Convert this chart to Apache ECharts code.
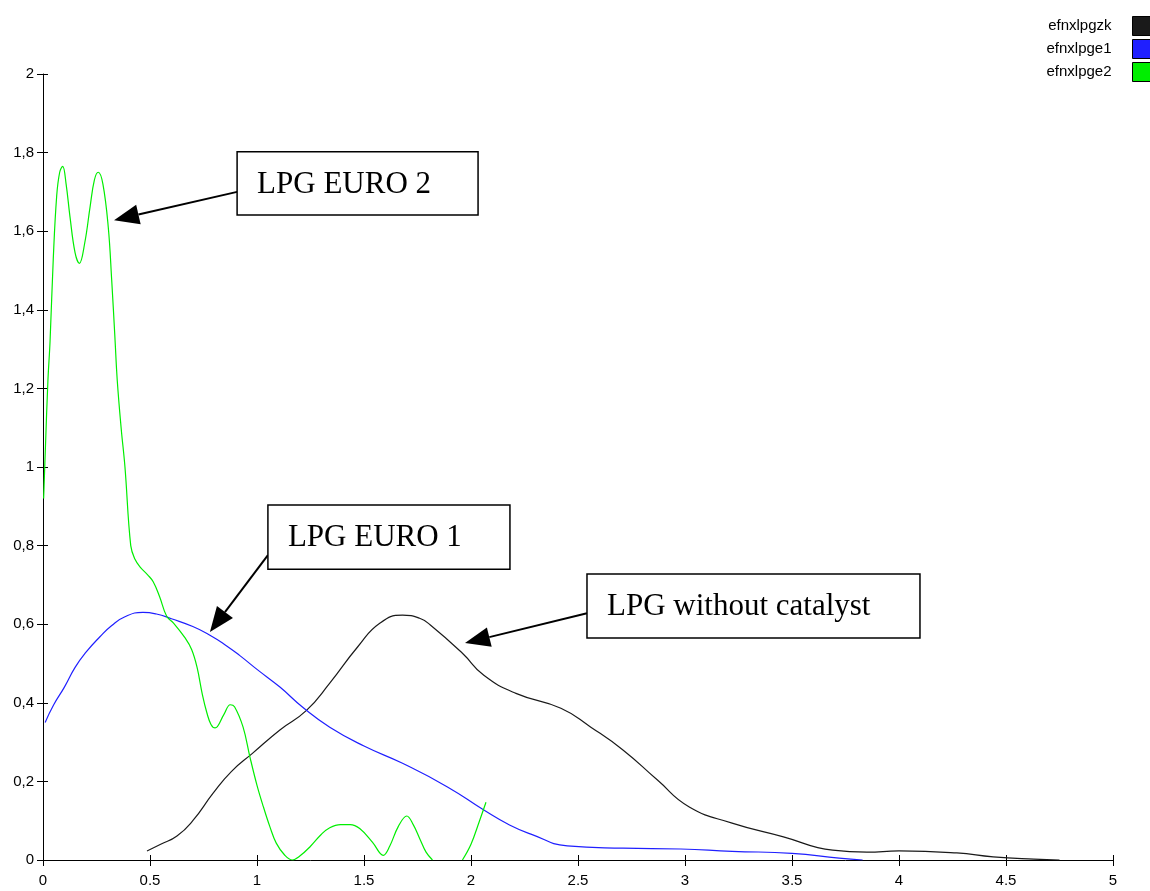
<!DOCTYPE html>
<html>
<head>
<meta charset="utf-8">
<script src="https://cdn.jsdelivr.net/npm/echarts@6/dist/echarts.min.js"></script>
<style>
  html, body { margin: 0; padding: 0; background: #fff; }
  #chart { width: 1150px; height: 891px; }
</style>
</head>
<body>
<div id="chart"></div>
<script>
// Series names as shown in the legend
const seriesNames = ['efnxlpgzk', 'efnxlpge1', 'efnxlpge2'];

// LPG without catalyst: [x, y]
const zkPoints = [
  [0.486, 0.023], [0.55, 0.04], [0.626, 0.061], [0.7, 0.1], [0.795, 0.17],
  [0.88, 0.225], [0.98, 0.272], [1.107, 0.331], [1.23, 0.38], [1.34, 0.45],
  [1.47, 0.542], [1.575, 0.603], [1.68, 0.623], [1.76, 0.615], [1.81, 0.598],
  [1.96, 0.526], [2.06, 0.47], [2.21, 0.424], [2.42, 0.386], [2.56, 0.338],
  [2.71, 0.28], [2.87, 0.204], [3.02, 0.135], [3.22, 0.094], [3.46, 0.059],
  [3.69, 0.025], [3.85, 0.02], [4.0, 0.023], [4.27, 0.018], [4.44, 0.008],
  [4.63, 0.002], [4.75, 0.0]
];

// LPG EURO 1: [x, y]
const e1Points = [
  [0.01, 0.35], [0.05, 0.395], [0.1, 0.44], [0.15, 0.49], [0.2, 0.528],
  [0.266, 0.568], [0.32, 0.596], [0.383, 0.619], [0.467, 0.63], [0.53, 0.626],
  [0.6, 0.614], [0.7, 0.594], [0.78, 0.572], [0.85, 0.548], [0.92, 0.52],
  [1.0, 0.485], [1.107, 0.44], [1.215, 0.388], [1.34, 0.338], [1.5, 0.29],
  [1.68, 0.246], [1.89, 0.186], [2.06, 0.127], [2.18, 0.089], [2.28, 0.066],
  [2.45, 0.036], [2.71, 0.03], [2.98, 0.028], [3.22, 0.022], [3.5, 0.017],
  [3.72, 0.005], [3.83, 0.0]
];

// LPG EURO 2: [x, y]; the null entry is where the curve drops out of range
const e2Points = [
  [0.003, 0.92], [0.012, 1.06], [0.023, 1.22], [0.033, 1.32], [0.048, 1.53],
  [0.064, 1.69], [0.078, 1.75], [0.092, 1.765], [0.108, 1.72], [0.126, 1.637],
  [0.15, 1.545], [0.17, 1.518], [0.195, 1.57], [0.22, 1.662], [0.24, 1.73],
  [0.258, 1.75], [0.28, 1.72], [0.305, 1.61], [0.321, 1.476], [0.336, 1.33],
  [0.347, 1.22], [0.365, 1.1], [0.383, 1.0], [0.41, 0.8], [0.43, 0.765],
  [0.453, 0.746], [0.49, 0.725], [0.515, 0.708], [0.545, 0.67], [0.578, 0.62],
  [0.61, 0.603], [0.664, 0.565], [0.695, 0.535], [0.72, 0.49], [0.745, 0.42],
  [0.766, 0.374], [0.785, 0.345], [0.804, 0.336], [0.845, 0.37], [0.875, 0.395],
  [0.895, 0.39], [0.935, 0.338], [0.967, 0.262], [1.0, 0.19], [1.03, 0.135],
  [1.06, 0.085], [1.09, 0.043], [1.13, 0.012], [1.165, 0.0], [1.2, 0.01],
  [1.25, 0.035], [1.3, 0.065], [1.34, 0.082], [1.39, 0.09], [1.435, 0.09],
  [1.48, 0.08], [1.54, 0.045], [1.59, 0.012], [1.62, 0.035], [1.66, 0.085],
  [1.7, 0.112], [1.73, 0.09], [1.76, 0.055], [1.79, 0.02], [1.82, 0.0],
  [1.89, null],
  [1.96, 0.0], [2.0, 0.04], [2.04, 0.1], [2.07, 0.147]
];

// Axis ranges and tick steps
const xRange = [0, 5];
const xStep = 0.5;
const yRange = [0, 2];
const yStep = 0.2;

// Callout boxes: label, arrow tip, arrow tail, box corners (all in data units)
const calloutLabels = ['LPG EURO 2', 'LPG EURO 1', 'LPG without catalyst'];
const calloutTips = [[0.332, 1.628], [0.78, 0.58], [1.972, 0.552]];
const calloutTails = [[0.907, 1.70], [1.051, 0.776], [2.542, 0.628]];
const calloutBoxes = [
  [0.907, 1.802, 2.033, 1.641],
  [1.051, 0.903, 2.182, 0.740],
  [2.542, 0.728, 4.098, 0.565]
];

const colors = ['#1a1a1a', '#1f1fff', '#00ee00'];
const labelFont = 'Liberation Sans, Arial, sans-serif';

const chart = echarts.init(document.getElementById('chart'), null, { renderer: 'canvas' });

const fmtX = v => String(+v.toFixed(1));
const fmtY = v => String(+v.toFixed(1)).replace('.', ',');

function makeSeries(name, data, color, smooth) {
  return {
    name: name,
    type: 'line',
    data: data,
    smooth: smooth,
    symbol: 'none',
    showSymbol: false,
    connectNulls: false,
    color: color,
    itemStyle: { color: color },
    lineStyle: { color: color, width: 1.2 },
    emphasis: { disabled: true },
    xAxisIndex: 0,
    yAxisIndex: 0
  };
}

const option = {
  animation: false,
  backgroundColor: '#ffffff',
  grid: { left: 43, right: 37, top: 74, bottom: 31, containLabel: false },
  legend: {
    orient: 'vertical',
    right: -3,
    top: 16,
    padding: 0,
    align: 'right',
    icon: 'rect',
    itemWidth: 20,
    itemHeight: 19,
    itemGap: 3,
    selectedMode: false,
    itemStyle: { borderColor: '#000', borderWidth: 1 },
    textStyle: { fontSize: 15, fontFamily: labelFont, color: '#000', padding: [0, 16, 0, 0] },
    data: seriesNames
  },
  xAxis: [
    {
      type: 'value', min: xRange[0], max: xRange[1], interval: xStep,
      axisLine: { show: true, onZero: false, lineStyle: { color: '#000', width: 1 } },
      axisTick: { show: true, inside: false, length: 6, lineStyle: { color: '#000' } },
      axisLabel: { formatter: fmtX, fontSize: 15, fontFamily: labelFont, color: '#000', margin: 13 },
      splitLine: { show: false }
    },
    {
      type: 'value', min: xRange[0], max: xRange[1], interval: xStep, position: 'bottom',
      axisLine: { show: false },
      axisTick: { show: true, inside: true, length: 5, lineStyle: { color: '#000' } },
      axisLabel: { show: false },
      splitLine: { show: false }
    }
  ],
  yAxis: [
    {
      type: 'value', min: yRange[0], max: yRange[1], interval: yStep,
      axisLine: { show: true, onZero: false, lineStyle: { color: '#000', width: 1 } },
      axisTick: { show: true, inside: false, length: 6, lineStyle: { color: '#000' } },
      axisLabel: { formatter: fmtY, fontSize: 15, fontFamily: labelFont, color: '#000', margin: 9 },
      splitLine: { show: false }
    },
    {
      type: 'value', min: yRange[0], max: yRange[1], interval: yStep, position: 'left',
      axisLine: { show: false },
      axisTick: { show: true, inside: true, length: 5, lineStyle: { color: '#000' } },
      axisLabel: { show: false },
      splitLine: { show: false }
    }
  ],
  series: [
    makeSeries(seriesNames[0], zkPoints, colors[0], 0.5),
    makeSeries(seriesNames[1], e1Points, colors[1], 0.5),
    makeSeries(seriesNames[2], e2Points, colors[2], 0.4)
  ]
};

chart.setOption(option);

// Callout boxes with arrows, placed through the chart's own coordinate system
const toPx = p => chart.convertToPixel({ gridIndex: 0 }, p);
const graphics = [];
calloutLabels.forEach((label, i) => {
  const tip = toPx(calloutTips[i]);
  const tail = toPx(calloutTails[i]);
  const b = calloutBoxes[i];
  const tl = toPx([b[0], b[1]]);
  const br = toPx([b[2], b[3]]);

  const dx = tip[0] - tail[0], dy = tip[1] - tail[1];
  const len = Math.sqrt(dx * dx + dy * dy);
  const ux = dx / len, uy = dy / len;
  const headLen = 25, headHalf = 10;
  const base = [tip[0] - ux * headLen, tip[1] - uy * headLen];

  graphics.push({
    type: 'line', z: 100,
    shape: { x1: tail[0], y1: tail[1], x2: base[0], y2: base[1] },
    style: { stroke: '#000', lineWidth: 2 }
  });
  graphics.push({
    type: 'polygon', z: 100,
    shape: { points: [
      tip,
      [base[0] - uy * headHalf, base[1] + ux * headHalf],
      [base[0] + uy * headHalf, base[1] - ux * headHalf]
    ] },
    style: { fill: '#000' }
  });
  graphics.push({
    type: 'rect', z: 101,
    shape: { x: tl[0], y: tl[1], width: br[0] - tl[0], height: br[1] - tl[1] },
    style: { fill: '#fff', stroke: '#000', lineWidth: 1.5 }
  });
  graphics.push({
    type: 'text', z: 102,
    x: tl[0] + 20,
    y: (tl[1] + br[1]) / 2 + 1,
    style: {
      text: label,
      fill: '#000',
      font: '31px "Liberation Serif", "Times New Roman", serif',
      verticalAlign: 'middle',
      align: 'left'
    }
  });
});
chart.setOption({ graphic: graphics });
</script>
</body>
</html>
